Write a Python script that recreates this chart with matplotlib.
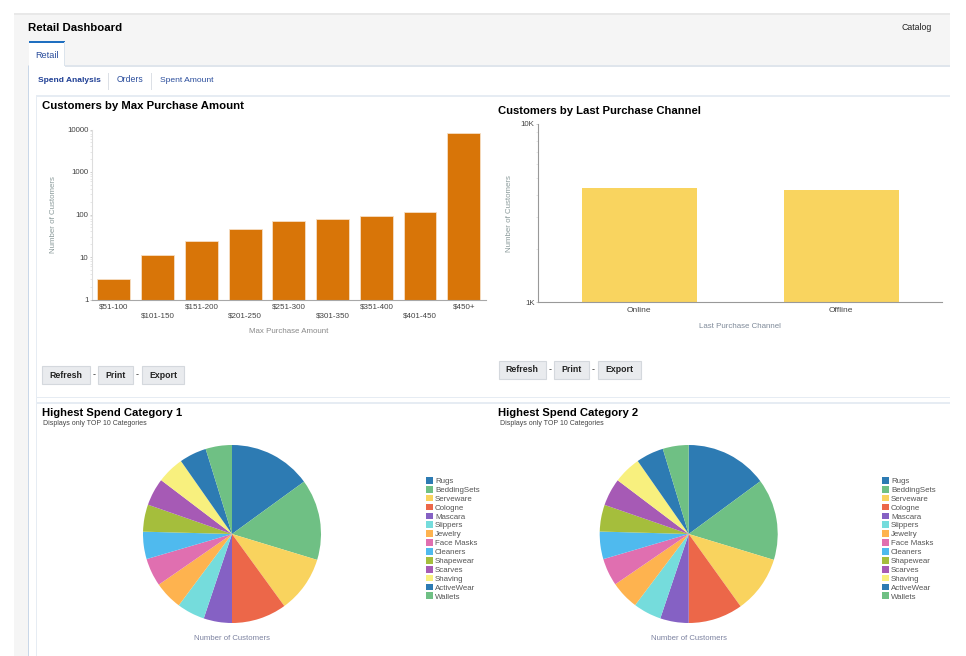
import matplotlib
matplotlib.use("Agg")
import matplotlib.pyplot as plt
from matplotlib.patches import Rectangle
from matplotlib.ticker import NullFormatter

plt.rcParams['font.family'] = ['Liberation Sans', 'DejaVu Sans']

W, H = 966, 656

amount_labels = ['$51-100', '$101-150', '$151-200', '$201-250', '$251-300',
                 '$301-350', '$351-400', '$401-450', '$450+']
amount_values = [3, 11, 24, 46, 69, 78, 92, 113, 8400]
channel_labels = ['Online', 'Offline']
channel_values = [4360, 4250]
pie_labels = ['Rugs', 'BeddingSets', 'Serveware', 'Cologne', 'Mascara', 'Slippers',
              'Jewelry', 'Face Masks', 'Cleaners', 'Shapewear', 'Scarves', 'Shaving',
              'ActiveWear', 'Wallets']
cat1_values = [15.0, 14.7, 10.3, 10.0, 5.14, 5.06, 5.17, 5.08, 4.97, 4.92, 5.0, 4.94, 4.94, 4.78]
cat2_values = [14.9, 14.8, 10.4, 9.9, 5.17, 5.11, 5.17, 5.0, 5.0, 4.86, 5.0, 5.0, 5.0, 4.7]
pie_colors = ['#2D7BB3', '#6FC084', '#F9D35E', '#EC6749', '#8561C4', '#75DCDC', '#FEB34F',
              '#E06FB0', '#4FBAEE', '#A5BE3C', '#A65AB5', '#F8F07E', '#2D7BB3', '#6FC084']

fig = plt.figure(figsize=(W / 100, H / 100), dpi=100, facecolor='white')


def box(x0, y0, x1, y1):
    return [x0 / W, 1 - y1 / H, (x1 - x0) / W, (y1 - y0) / H]


# page chrome, in pixel coordinates
bg = fig.add_axes([0, 0, 1, 1], zorder=0)
bg.set_xlim(0, W)
bg.set_ylim(H, 0)
bg.axis('off')


def rect(x0, y0, x1, y1, fc, ec='none', lw=0):
    bg.add_patch(Rectangle((x0, y0), x1 - x0, y1 - y0, facecolor=fc, edgecolor=ec, linewidth=lw))


def label(x, y, s, size=6, color='#333333', weight='normal', ha='left', va='center', **kw):
    bg.text(x, y, s, fontsize=size, color=color, fontweight=weight, ha=ha, va=va, **kw)


rect(14, 14, 950, 66, '#F5F5F5')
rect(14, 13, 950, 15, '#E8E8E8')
rect(14, 66, 28, 656, '#F5F5F5')
rect(28, 65, 950, 67, '#DFE5EC')
rect(28, 66, 29, 656, '#C9D7E8')
rect(29, 42, 64.5, 67, 'white')
rect(29, 41, 64.5, 43, '#1F6FC0')
rect(64, 42, 65, 66, '#DCE4EC')
rect(36, 95, 950, 96.5, '#E6ECF3')
rect(36, 95, 37, 656, '#E6ECF3')
rect(36, 397, 950, 398, '#E6ECF3')
rect(36, 402, 950, 403.5, '#E6ECF3')
rect(107.5, 73, 108.5, 90, '#DCE0E6')
rect(150.5, 73, 151.5, 90, '#DCE0E6')

label(28.5, 27.6, 'Retail Dashboard', size=8.2, color='black', weight='bold')
label(902, 28, 'Catalog', size=6.3, color='#222222')
label(35.5, 55, 'Retail', size=6.6, color='#2A4D9C')
label(37.5, 80, 'Spend Analysis', size=6.0, color='#1E3E94', weight='bold')
label(116.5, 80, 'Orders', size=6.2, color='#2A4D9C')
label(159.5, 80, 'Spent Amount', size=6.1, color='#2A4D9C')

label(41.5, 106.2, 'Customers by Max Purchase Amount', size=8.2, color='black', weight='bold')
label(498, 110.8, 'Customers by Last Purchase Channel', size=8.15, color='black', weight='bold')
label(41.5, 412.8, 'Highest Spend Category 1', size=8.15, color='black', weight='bold')
label(498, 412.8, 'Highest Spend Category 2', size=8.15, color='black', weight='bold')
label(43, 423.5, 'Displays only TOP 10 Categories', size=5.0, color='#444444')
label(500, 423.5, 'Displays only TOP 10 Categories', size=5.0, color='#444444')


def buttons(xs, y0, y1):
    for (x0, x1, s) in xs:
        rect(x0, y0, x1, y1, '#E9EBEE', ec='#D4D8DD', lw=0.8)
        label((x0 + x1) / 2, (y0 + y1) / 2, s, size=6.3, color='#222222', weight='bold', ha='center')
    for a, b in zip(xs[:-1], xs[1:]):
        label((a[1] + b[0]) / 2, (y0 + y1) / 2, '-', size=6.5, color='#333333', ha='center')


buttons([(42, 90, 'Refresh'), (98, 133, 'Print'), (142, 184, 'Export')], 366, 384)
buttons([(498.5, 546, 'Refresh'), (554, 589, 'Print'), (598, 641, 'Export')], 361, 379)


def style_bar_axes(ax, ymin, ymax, ticks, ticklabels):
    ax.patch.set_alpha(0)
    ax.set_yscale('log')
    ax.set_ylim(ymin, ymax)
    ax.set_yticks(ticks)
    ax.set_yticklabels(ticklabels)
    ax.yaxis.set_minor_formatter(NullFormatter())
    for s in ('top', 'right'):
        ax.spines[s].set_visible(False)
    ax.tick_params(axis='x', length=0, labelsize=5.8, labelcolor='#444444', pad=3)
    ax.tick_params(axis='y', which='major', length=1.4, width=0.6, color='#C8C8C8',
                   labelsize=5.7, labelcolor='#444444', pad=1.2)
    ax.tick_params(axis='y', which='minor', length=1.2, width=0.5, color='#DDDDDD')


# amount bars
ax1 = fig.add_axes(box(92, 129.5, 485.7, 299.5), zorder=1)
ax1.bar(range(len(amount_values)), amount_values, width=0.75, color='#D87508',
        edgecolor='#F6DFC4', linewidth=0.6)
ax1.set_xlim(-0.5, 8.5)
ax1.set_xticks(range(len(amount_labels)))
ax1.set_xticklabels(amount_labels)
style_bar_axes(ax1, 1, 10000, [1, 10, 100, 1000, 10000], ['1', '10', '100', '1000', '10000'])
ax1.spines['left'].set_color('#DDDDDD')
ax1.spines['bottom'].set_color('#A8A8A8')
for t in ax1.xaxis.get_major_ticks()[1::2]:
    t.set_pad(9)
ax1.set_xlabel('Max Purchase Amount', fontsize=5.7, color='#8A8A8A')
ax1.xaxis.set_label_coords(0.5, -0.17)
ax1.set_ylabel('Number of Customers', fontsize=5.7, color='#8A9A9A')
ax1.yaxis.set_label_coords(-0.089, 0.5)

# channel bars
ax2 = fig.add_axes(box(538.3, 124, 942, 302.3), zorder=1)
ax2.bar(range(len(channel_values)), channel_values, width=0.57, color='#F9D45F')
ax2.set_xlim(-0.5, 1.5)
ax2.set_xticks(range(len(channel_labels)))
ax2.set_xticklabels(channel_labels)
style_bar_axes(ax2, 1000, 10000, [1000, 10000], ['1K', '10K'])
ax2.tick_params(axis='x', labelsize=6, pad=3.5)
ax2.spines['left'].set_color('#999999')
ax2.spines['bottom'].set_color('#999999')
ax2.set_xlabel('Last Purchase Channel', fontsize=5.7, color='#7F8A99')
ax2.xaxis.set_label_coords(0.5, -0.117)
ax2.set_ylabel('Number of Customers', fontsize=5.7, color='#8A9A9A')
ax2.yaxis.set_label_coords(-0.0627, 0.5)


def pie_chart(values, cx, cy, r, lx, ly):
    ax = fig.add_axes(box(cx - r, cy - r, cx + r, cy + r), zorder=1)
    wedges, _ = ax.pie(values, colors=pie_colors, startangle=90, counterclock=False, radius=1)
    ax.set_xlim(-1, 1)
    ax.set_ylim(-1, 1)
    fig.legend(wedges, pie_labels, loc='upper left',
               bbox_to_anchor=(lx / W, 1 - ly / H), frameon=False, fontsize=5.7,
               labelspacing=0.1, handlelength=0.93, handleheight=0.93,
               handletextpad=0.22, borderpad=0, borderaxespad=0,
               labelcolor='#555555')
    label(cx, cy + 104, 'Number of Customers', size=5.55, color='#7C82A0', ha='center')
    return ax


pie_chart(cat1_values, 232, 534, 89, 426, 477)
pie_chart(cat2_values, 688.7, 534, 89, 882, 477)

fig.savefig('out.png', dpi=100, facecolor='white')
